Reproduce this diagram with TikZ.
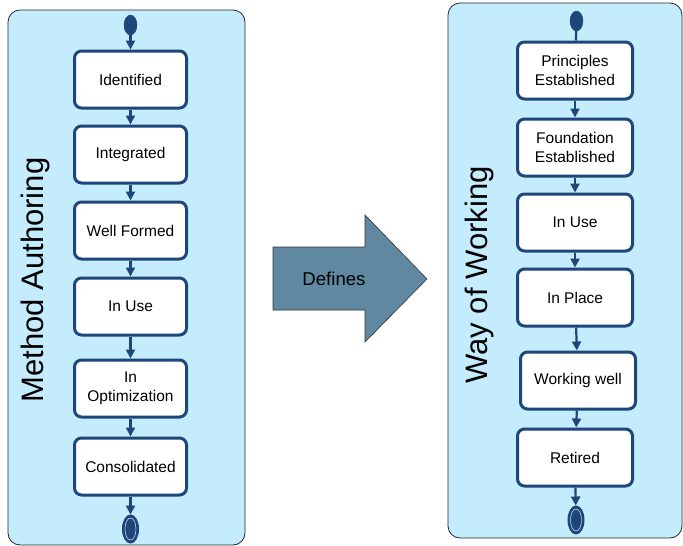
\documentclass[tikz,border=0pt]{standalone}
\usepackage{fontspec}
\setmainfont{Liberation Sans}
\usetikzlibrary{arrows.meta,positioning,shapes.geometric}
\usepackage{xcolor}
\definecolor{panelfill}{RGB}{197,236,253}
\definecolor{stateline}{RGB}{29,71,122}
\definecolor{definesfill}{RGB}{96,136,160}
\tikzset{
    lifepanel/.style={draw=black!85, rounded corners=12pt, fill=panelfill, line width=0.8pt},
    statebox/.style={draw=stateline, line width=3pt, rounded corners=7pt, fill=white, align=center, font=\fontsize{15.5}{19}\selectfont, minimum width=112pt, minimum height=57pt, inner sep=0pt},
    statewide/.style={statebox, minimum width=115pt},
    startdot/.style={ellipse, draw=stateline, fill=stateline, minimum width=13pt, minimum height=20pt, inner sep=0pt},
    enddot/.style={ellipse, draw=stateline, fill=stateline, line width=1pt, minimum width=16pt, minimum height=28pt, inner sep=0pt},
    statearrow/.style={-{Triangle[length=9pt,width=9pt]}, draw=stateline, line width=2.2pt},
    stateline/.style={draw=stateline, line width=2.2pt},
    paneltitle/.style={rotate=90, font=\fontsize{31}{31}\selectfont},
    definesarrow/.style={draw=black!80, fill=definesfill, line width=0.6pt}
}

\begin{document}
\begin{tikzpicture}[x=1pt, y=-1pt]
        \useasboundingbox (0,0) rectangle (683,546);
        % panels
        \draw[lifepanel] (8,10) rectangle (245,545);
        \draw[lifepanel] (448,3) rectangle (682,538);

        % Method Authoring
        \node[paneltitle] (matitle) at (35,280) {Method Authoring};
        \node[startdot] (mastart) at (130.5,25) {};
        \node[statebox] (maident) at (130.5,79.5) {Identified};
        \node[statebox, below=15pt of maident] (mainteg) {Integrated};
        \node[statebox, below=16pt of mainteg] (mawell) {Well Formed};
        \node[statebox, below=16pt of mawell] (mainuse) {In Use};
        \node[statebox, below=22pt of mainuse] (maoptim) {In\\Optimization};
        \node[statebox, below=18pt of maoptim] (maconso) {Consolidated};
        \node[enddot] (maend) at (130.5,529) {};
        \draw[white, line width=0.4pt] (maend.center) ellipse (5.5pt and 11pt);

        \draw[statearrow] (mastart) -- (maident);
        \draw[statearrow] (maident) -- (mainteg);
        \draw[statearrow] (mainteg) -- (mawell);
        \draw[statearrow] (mawell) -- (mainuse);
        \draw[statearrow] (mainuse) -- (maoptim);
        \draw[statearrow] (maoptim) -- (maconso);
        \draw[statearrow] (maconso) -- (maend);

        % Defines
        \draw[definesarrow] (273,247) -- (365,247) -- (365,215) -- (427,279) -- (365,342) -- (365,310) -- (273,310) -- cycle;
        \node[font=\fontsize{18.6}{20}\selectfont] (defines) at (334,279) {Defines};

        % Way of Working
        \node[paneltitle] (wwtitle) at (479,275) {Way of Working};
        \node[startdot] (wwstart) at (576.5,21) {};
        \node[statewide] (wwprinc) at (575,70.5) {Principles\\Established};
        \node[statewide, below=17pt of wwprinc] (wwfound) {Foundation\\Established};
        \node[statewide, below=15pt of wwfound] (wwinuse) {In Use};
        \node[statewide, below=15pt of wwinuse] (wwplace) {In Place};
        \node[statewide, below=23pt of wwplace, xshift=3pt] (wwwell) {Working well};
        \node[statewide, below=17pt of wwwell, xshift=-3pt] (wwretir) {Retired};
        \node[enddot] (wwend) at (576,520) {};
        \draw[white, line width=0.4pt] (wwend.center) ellipse (5.5pt and 11pt);

        \draw[stateline] (wwstart) -- (wwprinc);
        \draw[statearrow] (wwprinc) -- (wwfound);
        \draw[statearrow] (wwfound) -- (wwinuse);
        \draw[statearrow] (wwinuse) -- (wwplace);
        \draw[statearrow] (wwplace) -- (wwwell);
        \draw[statearrow] (wwwell) -- (wwretir);
        \draw[statearrow] (wwretir) -- (wwend);
    \end{tikzpicture}
\end{document}
